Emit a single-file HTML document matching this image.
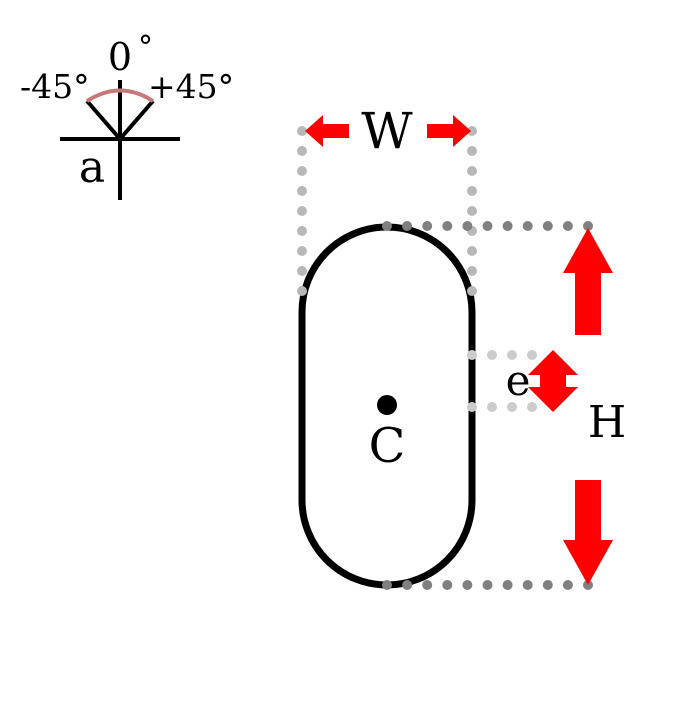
<!DOCTYPE html>
<html><head><style>html,body{margin:0;padding:0;background:#fff}</style></head>
<body>
<svg width="700" height="700" xmlns="http://www.w3.org/2000/svg" font-family="DejaVu Serif, serif">
<rect width="700" height="700" fill="#fff"/>
<!-- angle indicator -->
<line x1="120" y1="80" x2="120" y2="200" stroke="#000" stroke-width="4"/>
<line x1="60" y1="139" x2="180" y2="139" stroke="#000" stroke-width="4"/>
<line x1="87" y1="101" x2="120" y2="139" stroke="#000" stroke-width="4"/>
<line x1="153" y1="101" x2="120" y2="139" stroke="#000" stroke-width="4"/>
<path d="M87,101 Q120,80 153,101" fill="none" stroke="#c87878" stroke-width="4"/>
<text x="120" y="70" font-size="38" text-anchor="middle">0</text>
<text x="138" y="57" font-size="30">°</text>
<text x="20" y="98" font-size="33">-45°</text>
<text x="148" y="98" font-size="33">+45°</text>
<text x="92" y="182" font-size="44" text-anchor="middle">a</text>
<!-- capsule -->
<rect x="302" y="227" width="170" height="358" rx="85" ry="85" fill="none" stroke="#000" stroke-width="7"/>
<circle cx="387" cy="405" r="10" fill="#000"/>
<text x="387" y="462" font-size="48" text-anchor="middle">C</text>
<!-- dotted guides -->
<g fill="none" stroke-linecap="round" stroke-width="10">
<line x1="302" y1="131" x2="302" y2="311" stroke="#b8b8b8" stroke-dasharray="0 20"/>
<line x1="472" y1="131" x2="472" y2="311" stroke="#b8b8b8" stroke-dasharray="0 20"/>
<line x1="387" y1="226" x2="588" y2="226" stroke="#808080" stroke-dasharray="0 20.1"/>
<line x1="387" y1="585" x2="588" y2="585" stroke="#808080" stroke-dasharray="0 20.1"/>
<line x1="472" y1="355" x2="552" y2="355" stroke="#cccccc" stroke-dasharray="0 20"/>
<line x1="472" y1="407" x2="552" y2="407" stroke="#cccccc" stroke-dasharray="0 20"/>
</g>
<!-- W arrows -->
<polygon points="305,131 323,115 323,124 349,124 349,138 323,138 323,147" fill="#f00"/>
<polygon points="471,131 453,115 453,124 427,124 427,138 453,138 453,147" fill="#f00"/>
<text x="387" y="148" font-size="50" text-anchor="middle">W</text>
<!-- H arrows -->
<polygon points="588,228 613,273 601,273 601,335 575,335 575,273 563,273" fill="#f00"/>
<polygon points="588,585 613,540 601,540 601,480 575,480 575,540 563,540" fill="#f00"/>
<text x="607" y="437" font-size="44" text-anchor="middle">H</text>
<!-- e arrow -->
<polygon points="553,350 578,375 566,375 566,387 578,387 553,412 528,387 540,387 540,375 528,375" fill="#f00"/>
<text x="518" y="395" font-size="42" text-anchor="middle">e</text>
</svg>
</body></html>
